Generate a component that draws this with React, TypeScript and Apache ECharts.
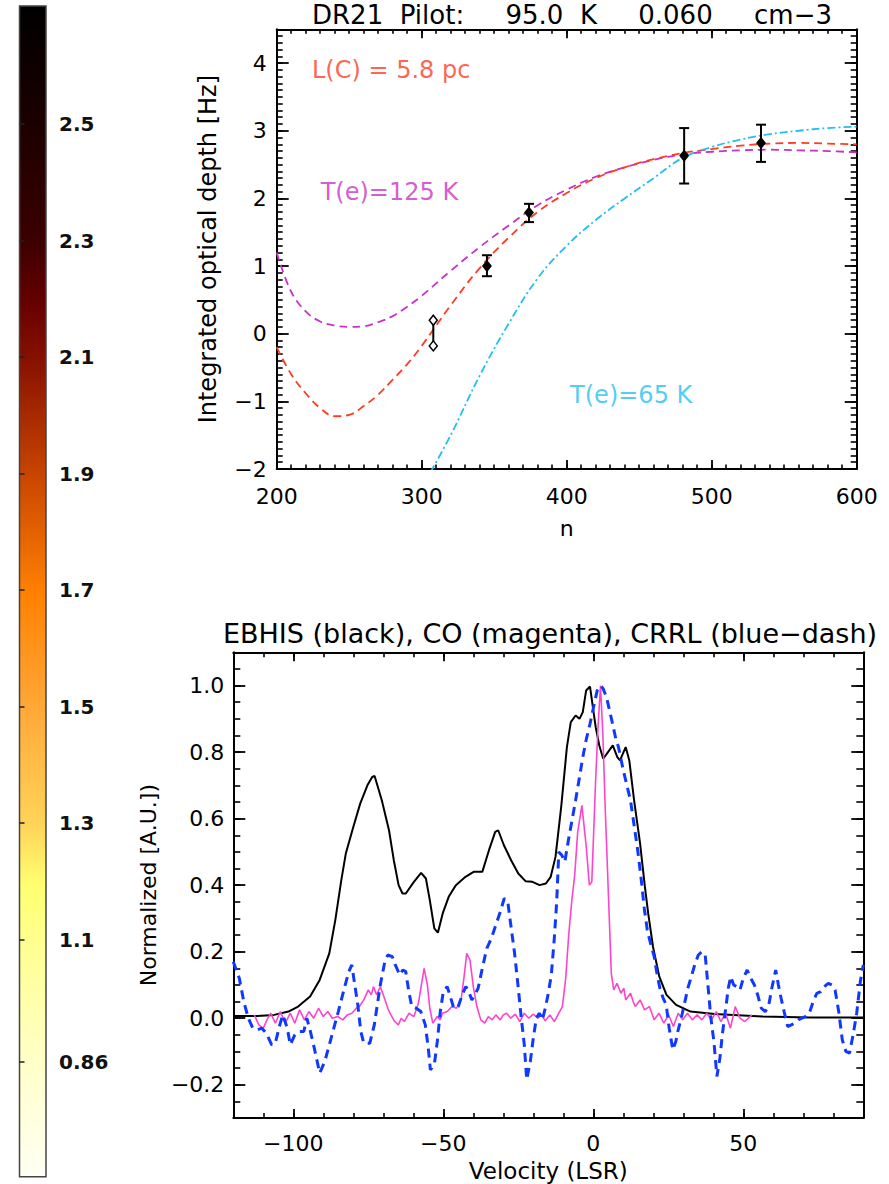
import React, { useEffect, useRef } from "react";
import * as echarts from "echarts";

const FONT = "DejaVu Sans";

// ---------- colour bar ----------
const cbMin = 0.693;
const cbMax = 2.703;
const cbTickValues = [2.5, 2.3, 2.1, 1.9, 1.7, 1.5, 1.3, 1.1, 0.89];
const cbTickLabels = ["2.5", "2.3", "2.1", "1.9", "1.7", "1.5", "1.3", "1.1", "0.86"];
const cbStopOffsets = [0, 0.1, 0.2, 0.25, 0.3, 0.4, 0.5, 0.6, 0.7, 0.75, 0.8, 0.9, 1];
const cbStopColors = [
  "#000000", "#1c0000", "#3c0000", "#640000", "#861000", "#c84400", "#ff8000",
  "#ffa838", "#ffd458", "#ffff70", "#ffff90", "#ffffc8", "#fffff4",
];

// ---------- upper panel: integrated optical depth vs. n ----------
const modelN = [200, 210, 220, 230, 240, 250, 260, 270, 280, 290, 300, 320, 340, 360, 380, 400, 420, 440, 460, 480, 500, 520, 540, 560, 580, 600];
const tauLC = [-0.2, -0.6, -0.88, -1.1, -1.22, -1.2, -1.07, -0.9, -0.68, -0.45, -0.18, 0.42, 0.97, 1.42, 1.8, 2.08, 2.3, 2.46, 2.58, 2.67, 2.73, 2.78, 2.81, 2.82, 2.81, 2.8];
const tauTe125 = [1.2, 0.62, 0.33, 0.18, 0.12, 0.1, 0.11, 0.17, 0.26, 0.4, 0.56, 0.93, 1.28, 1.6, 1.9, 2.13, 2.32, 2.46, 2.57, 2.65, 2.69, 2.71, 2.72, 2.71, 2.7, 2.68];
const te65N = [306, 320, 340, 360, 380, 400, 420, 440, 460, 480, 500, 520, 540, 560, 580, 600];
const tauTe65 = [-2.05, -1.5, -0.62, 0.15, 0.82, 1.3, 1.68, 2.0, 2.3, 2.6, 2.76, 2.87, 2.95, 3.0, 3.04, 3.06];

const obsN = [308, 345, 374, 481, 534];
const obsTau: (number | null)[] = [null, 1.0, 1.79, 2.63, 2.82];
const obsLow = [-0.18, 0.85, 1.65, 2.22, 2.54];
const obsHigh = [0.2, 1.16, 1.92, 3.04, 3.09];

const noteText = ["L(C) = 5.8 pc", "T(e)=125 K", "T(e)=65 K"];
const noteN = [224, 230, 402];
const noteTau = [3.9, 2.1, -0.9];
const noteColor = ["#ff3b22", "#c832c8", "#22bff0"];

// ---------- lower panel: normalised spectra ----------
const ebhisVel = [-120, -112, -106.4, -101.6, -98.4, -94.4, -91.2, -88, -86, -84, -82.5, -80, -77.7, -75.3, -73.7, -72.9, -70.5, -68.1, -66.5, -64.9, -63.6, -62.5, -59.8, -57.4, -55.8, -54.5, -53, -51.8, -50.2, -48.2, -45.8, -42.6, -39.9, -37, -34.6, -32.7, -31.7, -29.8, -27.4, -25, -22.6, -20.3, -17.9, -15.8, -14.2, -12.6, -10.7, -8.8, -7.5, -5.9, -4.6, -3.5, -2.4, -1.1, 0.8, 2, 3.3, 4.9, 6.5, 8, 8.9, 10.8, 12, 13.6, 15.6, 17.2, 18.3, 19.9, 22, 24.4, 27.6, 32.4, 40.4, 56.3, 72.2, 90];
const ebhisNorm = [0.007, 0.007, 0.01, 0.02, 0.035, 0.065, 0.115, 0.195, 0.295, 0.415, 0.495, 0.575, 0.645, 0.7, 0.725, 0.728, 0.655, 0.565, 0.475, 0.4, 0.375, 0.375, 0.41, 0.437, 0.42, 0.355, 0.27, 0.257, 0.315, 0.365, 0.4, 0.425, 0.44, 0.44, 0.51, 0.56, 0.565, 0.52, 0.475, 0.435, 0.412, 0.41, 0.4, 0.405, 0.425, 0.485, 0.635, 0.815, 0.89, 0.91, 0.9, 0.92, 0.985, 0.997, 0.875, 0.82, 0.78, 0.8, 0.82, 0.785, 0.775, 0.815, 0.775, 0.655, 0.525, 0.395, 0.315, 0.215, 0.125, 0.07, 0.04, 0.02, 0.013, 0.005, 0.002, 0.002];

const coVel = [-113, -111.5, -110, -108.5, -107.5, -106, -104.3, -102.7, -101, -99.5, -97.9, -96.3, -94.8, -93.2, -91.6, -90, -88.5, -87, -85.2, -83.5, -82, -80.5, -79, -78, -76.5, -75, -74, -73.3, -72.2, -71, -69.4, -68.5, -67.8, -66.2, -65, -64, -63, -61.4, -59.8, -58.3, -57.3, -56.4, -55.3, -54.5, -53.5, -52, -51, -50.3, -48.7, -47.1, -45.6, -44, -43, -42.2, -41.1, -40, -38.8, -37.5, -36.2, -35, -33.7, -32.5, -31, -30, -28.9, -27.5, -26, -24.5, -23, -21.5, -20, -18.5, -17.3, -16, -14.5, -13, -11.5, -10.3, -9.2, -8.2, -7.2, -6.2, -5.2, -3.8, -2.4, -1.3, -0.5, 0.8, 1.6, 2.4, 3.2, 3.9, 4.9, 6.0, 6.8, 7.9, 9.2, 10.2, 10.8, 12.4, 13.3, 14, 15.6, 17.1, 18.7, 20.3, 21.9, 23.5, 25.1, 26.7, 28.3, 29.8, 31.4, 33, 34.6, 36.2, 37.8, 39.4, 41, 42.5, 44.1, 45.7, 47.3, 48.9, 50.5, 52.9];
const coNorm = [0.01, -0.02, -0.03, 0.0, 0.015, -0.015, 0.02, -0.015, 0.015, -0.015, 0.025, -0.005, 0.02, 0.0, 0.03, 0.005, 0.02, 0.0, 0.005, -0.005, 0.01, 0.015, 0.03, 0.035, 0.055, 0.085, 0.07, 0.095, 0.07, 0.095, 0.055, 0.03, 0.015, -0.01, -0.02, 0.0, -0.01, 0.015, 0.005, 0.045, 0.1, 0.15, 0.1, 0.03, -0.015, 0.005, -0.005, 0.015, 0.02, 0.035, 0.03, 0.06, 0.13, 0.195, 0.175, 0.095, 0.035, -0.005, -0.015, 0.005, -0.005, 0.01, -0.005, 0.01, 0.015, 0.0, 0.012, -0.01, 0.015, 0.0, 0.012, 0.0, 0.01, -0.008, 0.01, -0.01, 0.015, 0.035, 0.12, 0.25, 0.35, 0.43, 0.56, 0.64, 0.52, 0.4, 0.41, 0.72, 0.88, 1.0, 0.85, 0.65, 0.405, 0.135, 0.085, 0.105, 0.075, 0.09, 0.055, 0.075, 0.05, 0.035, 0.055, 0.025, 0.035, -0.005, 0.015, -0.015, 0.01, -0.025, 0.015, -0.005, 0.015, -0.005, 0.01, -0.005, 0.015, -0.005, 0.02, -0.01, 0.015, -0.03, 0.035, 0.0, -0.01, 0.01];

const crrlVel = [-120, -118, -116.5, -115, -113.5, -112, -110.5, -109, -107.2, -106, -104.5, -103.5, -102, -101, -99.5, -98, -96.5, -95.5, -94.3, -93, -91.2, -89.5, -88, -86.5, -85, -83, -81.5, -80.5, -79.5, -78.5, -77.5, -76.5, -74.5, -73, -72, -71, -69.5, -68.5, -67, -66, -64.5, -63.5, -62.5, -61.5, -60.5, -59, -57.5, -56, -55, -54.3, -53, -52, -51, -50, -48.7, -47.5, -46.5, -45, -43.7, -42.5, -41.5, -40.5, -39.5, -38.4, -37, -35.5, -34, -32.5, -31, -29.7, -28.5, -27.5, -26.3, -25, -24, -23, -22.2, -21, -20, -19, -18, -17, -16, -15, -14, -13, -12.2, -11.5, -10.5, -9.5, -8.3, -7, -5.9, -4.5, -3.5, -2.3, -1.1, 0.2, 1.3, 2.5, 3.3, 4.4, 5.3, 6.3, 7.5, 8.4, 10, 11.2, 12.4, 13.6, 14.8, 16, 17, 18, 19.2, 20.3, 21.3, 22.2, 23.3, 24.3, 25.3, 26.5, 27.5, 28.3, 29.3, 30.3, 31.5, 32.5, 33.8, 35, 36.2, 37.3, 38.3, 39.2, 40.2, 41.2, 42.2, 43, 44, 45, 45.8, 46.8, 47.8, 48.9, 50, 51.3, 52.5, 53.7, 54.8, 56, 57.3, 58.4, 59.5, 60.8, 61.7, 62.6, 63.6, 64.8, 66, 67.1, 68.3, 69.5, 70.7, 72, 73.3, 74.5, 75.8, 77, 78.3, 79.5, 80.6, 81.8, 83, 84.2, 85.4, 86.6, 87.8, 89, 90];
const crrlNorm = [0.17, 0.12, 0.05, 0.0, -0.03, -0.035, -0.03, -0.045, -0.08, -0.075, -0.02, 0.01, -0.03, -0.08, -0.05, -0.04, -0.04, 0.0, -0.04, -0.09, -0.165, -0.13, -0.08, -0.03, 0.02, 0.09, 0.14, 0.16, 0.1, 0.04, -0.04, -0.075, -0.075, -0.02, 0.04, 0.1, 0.17, 0.19, 0.185, 0.16, 0.13, 0.145, 0.14, 0.08, 0.035, 0.03, 0.02, -0.02, -0.09, -0.155, -0.14, -0.07, 0.02, 0.08, 0.095, 0.06, 0.03, 0.035, 0.07, 0.095, 0.08, 0.055, 0.07, 0.09, 0.15, 0.21, 0.24, 0.28, 0.32, 0.36, 0.35, 0.28, 0.2, 0.09, 0.0, -0.08, -0.185, -0.13, -0.06, 0.0, 0.015, -0.005, 0.03, 0.075, 0.13, 0.24, 0.35, 0.5, 0.49, 0.47, 0.535, 0.6, 0.655, 0.73, 0.785, 0.84, 0.885, 0.94, 0.985, 1.0, 0.99, 0.965, 0.93, 0.89, 0.84, 0.815, 0.745, 0.7, 0.655, 0.58, 0.505, 0.415, 0.33, 0.265, 0.22, 0.185, 0.13, 0.09, 0.06, 0.04, -0.03, -0.095, -0.07, -0.035, 0.0, 0.04, 0.09, 0.12, 0.16, 0.19, 0.2, 0.19, 0.09, 0.0, -0.07, -0.175, -0.12, -0.05, 0.02, 0.09, 0.125, 0.1, 0.095, 0.085, 0.12, 0.145, 0.12, 0.1, 0.07, 0.03, 0.02, 0.035, 0.09, 0.145, 0.1, 0.06, 0.02, -0.025, -0.02, -0.015, -0.005, 0.0, 0.005, 0.015, 0.05, 0.075, 0.08, 0.095, 0.105, 0.1, 0.085, 0.02, -0.065, -0.1, -0.105, -0.05, 0.015, 0.11, 0.16];

const zip = (xs: number[], ys: number[]) => xs.map((x, i) => [x, ys[i]]);

const withMinus = (digits: number) => (v: number) => {
  const s = Math.abs(v).toFixed(digits);
  return v < -1e-9 ? "\u2212" + s : s;
};

type SideSpec = {
  min: number;
  max: number;
  majorInterval?: number;
  majorValues?: number[];
  minorInterval: number;
  majorLen: number;
  minorLen: number;
  digits: number;
  labelMargin: number;
  hideMaxLabel?: boolean;
  name: string;
  nameGap: number;
  nameSize: number;
};

// Four axes per direction: labelled major + minor on the near side, mirrored on the far side.
function frameAxes(dim: "x" | "y", gridIndex: number, s: SideSpec) {
  const [near, far] = dim === "x" ? ["bottom", "top"] : ["left", "right"];
  const base = {
    type: "value",
    gridIndex,
    min: s.min,
    max: s.max,
    splitLine: { show: false },
  };
  const major = (pos: string, labelled: boolean) => ({
    ...base,
    position: pos,
    interval: s.majorInterval,
    axisLine: { show: true, onZero: false, lineStyle: { color: "#000", width: 2 } },
    axisTick: {
      show: true,
      inside: true,
      length: s.majorLen,
      customValues: s.majorValues,
      lineStyle: { color: "#000", width: 1.8 },
    },
    axisLabel: {
      show: labelled,
      customValues: s.majorValues,
      margin: s.labelMargin,
      formatter: withMinus(s.digits),
      fontFamily: FONT,
      fontSize: 22,
      color: "#000",
      showMaxLabel: s.hideMaxLabel ? false : undefined,
    },
    name: labelled ? s.name : "",
    nameLocation: "middle",
    nameGap: s.nameGap,
    nameTextStyle: { fontFamily: FONT, fontSize: s.nameSize, color: "#000" },
  });
  const minor = (pos: string) => ({
    ...base,
    position: pos,
    interval: s.minorInterval,
    axisLine: { show: false, onZero: false },
    axisTick: { show: true, inside: true, length: s.minorLen, lineStyle: { color: "#000", width: 1.6 } },
    axisLabel: { show: false },
  });
  return [major(near, true), minor(near), major(far, false), minor(far)];
}

export default function App() {
  const ref = useRef<HTMLDivElement>(null);

  useEffect(() => {
    document.body.style.margin = "0";
    const chart = echarts.init(ref.current!, undefined, { renderer: "svg" });

    const cbGradient = new echarts.graphic.LinearGradient(
      0, 0, 0, 1,
      cbStopOffsets.map((o, i) => ({ offset: o, color: cbStopColors[i] }))
    );

    const xAxes = [
      ...frameAxes("x", 0, {
        min: 200, max: 600, majorInterval: 100, minorInterval: 10,
        majorLen: 9, minorLen: 4.5, digits: 0, labelMargin: 16,
        name: "n", nameGap: 48, nameSize: 22,
      }),
      ...frameAxes("x", 1, {
        min: -120, max: 90, majorValues: [-100, -50, 0, 50], minorInterval: 10,
        majorLen: 9, minorLen: 5, digits: 0, labelMargin: 14,
        name: "Velocity (LSR)", nameGap: 41, nameSize: 23,
      }),
      { type: "value", gridIndex: 2, min: 0, max: 1, show: false },
    ];

    const yAxes = [
      ...frameAxes("y", 0, {
        min: -2, max: 4.5, majorInterval: 1, minorInterval: 0.1,
        majorLen: 12, minorLen: 6, digits: 0, labelMargin: 10, hideMaxLabel: true,
        name: "Integrated optical depth [Hz]", nameGap: 57, nameSize: 24,
      }),
      ...frameAxes("y", 1, {
        min: -0.3, max: 1.1, majorValues: [-0.2, 0, 0.2, 0.4, 0.6, 0.8, 1.0], minorInterval: 0.05,
        majorLen: 12, minorLen: 7, digits: 1, labelMargin: 9,
        name: "Normalized [A.U.])", nameGap: 74, nameSize: 22,
      }),
      {
        type: "value",
        gridIndex: 2,
        position: "right",
        min: cbMin,
        max: cbMax,
        splitLine: { show: false },
        axisLine: { show: false },
        axisTick: {
          show: true,
          inside: false,
          length: 5,
          customValues: cbTickValues,
          lineStyle: { color: "#222", width: 1.5 },
        },
        axisLabel: {
          customValues: cbTickValues,
          margin: 13,
          fontFamily: FONT,
          fontWeight: "bold",
          fontSize: 20,
          color: "#111",
          formatter: (v: number) => {
            const i = cbTickValues.findIndex((t) => Math.abs(t - v) < 1e-6);
            return i >= 0 ? cbTickLabels[i] : "";
          },
        },
      },
    ];

    const option: any = {
      animation: false,
      backgroundColor: "#ffffff",
      textStyle: { fontFamily: FONT },
      title: [
        {
          text: "DR21  Pilot:     95.0  K     0.060     cm\u22123",
          left: 567,
          top: -3,
          textAlign: "center",
          textStyle: { fontFamily: FONT, fontSize: 26, fontWeight: "normal", color: "#000" },
        },
        {
          text: "EBHIS (black), CO (magenta), CRRL (blue\u2212dash)",
          left: 545,
          top: 615,
          textAlign: "center",
          textStyle: { fontFamily: FONT, fontSize: 27, fontWeight: "normal", color: "#000" },
        },
      ],
      grid: [
        { left: 276.7, top: 29.3, width: 580, height: 439.7 },
        { left: 233.3, top: 652.3, width: 630, height: 465.7 },
        {
          left: 19.5, top: 6, width: 26.5, height: 1170.7,
          show: true, backgroundColor: cbGradient, borderColor: "#444", borderWidth: 1.5,
        },
      ],
      xAxis: xAxes,
      yAxis: yAxes,
      series: [
        {
          type: "line", xAxisIndex: 0, yAxisIndex: 0, smooth: 0.4, symbol: "none",
          data: zip(modelN, tauTe125),
          lineStyle: { color: "#c832c8", width: 1.8, type: [8, 5] },
        },
        {
          type: "line", xAxisIndex: 0, yAxisIndex: 0, smooth: 0.4, symbol: "none",
          data: zip(modelN, tauLC),
          lineStyle: { color: "#ff3b22", width: 1.8, type: [8, 5] },
        },
        {
          type: "line", xAxisIndex: 0, yAxisIndex: 0, smooth: 0.4, symbol: "none",
          data: zip(te65N, tauTe65),
          lineStyle: { color: "#22bff0", width: 1.8, type: [8, 3, 2, 3] },
        },
        {
          type: "custom",
          xAxisIndex: 0,
          yAxisIndex: 0,
          data: obsN.map((n, i) => [n, obsLow[i], obsHigh[i]]),
          renderItem: (params: any, api: any) => {
            const i = params.dataIndex;
            const n = api.value(0);
            const lo = api.coord([n, api.value(1)]);
            const hi = api.coord([n, api.value(2)]);
            const stroke = { stroke: "#000", lineWidth: 2 };
            const diamond = (p: number[], filled: boolean) => ({
              type: "polygon",
              shape: { points: [[p[0], p[1] - 5], [p[0] + 4, p[1]], [p[0], p[1] + 5], [p[0] - 4, p[1]]] },
              style: { fill: filled ? "#000" : "#fff", stroke: "#000", lineWidth: 1.5 },
            });
            const children: any[] = [
              { type: "line", shape: { x1: lo[0], y1: lo[1], x2: hi[0], y2: hi[1] }, style: stroke },
            ];
            const tau = obsTau[i];
            if (tau === null) {
              children.push(diamond(lo, false), diamond(hi, false));
            } else {
              const c = api.coord([n, tau]);
              children.push(
                { type: "line", shape: { x1: lo[0] - 5, y1: lo[1], x2: lo[0] + 5, y2: lo[1] }, style: stroke },
                { type: "line", shape: { x1: hi[0] - 5, y1: hi[1], x2: hi[0] + 5, y2: hi[1] }, style: stroke },
                diamond(c, true)
              );
            }
            return { type: "group", children };
          },
          z: 5,
        },
        {
          type: "scatter",
          xAxisIndex: 0,
          yAxisIndex: 0,
          symbolSize: 1,
          itemStyle: { color: "rgba(0,0,0,0)" },
          data: noteText.map((t, i) => ({
            value: [noteN[i], noteTau[i]],
            label: {
              show: true,
              position: "right",
              distance: 0,
              formatter: t,
              color: noteColor[i],
              fontFamily: FONT,
              fontSize: 24,
            },
          })),
        },
        {
          type: "line", xAxisIndex: 4, yAxisIndex: 4, symbol: "none",
          data: zip(ebhisVel, ebhisNorm),
          lineStyle: { color: "#000", width: 2 },
        },
        {
          type: "line", xAxisIndex: 4, yAxisIndex: 4, symbol: "none",
          data: zip(coVel, coNorm),
          lineStyle: { color: "#ff44cc", width: 1.6 },
        },
        {
          type: "line", xAxisIndex: 4, yAxisIndex: 4, symbol: "none",
          data: zip(crrlVel, crrlNorm),
          lineStyle: { color: "#1038ff", width: 3, type: [9, 6] },
        },
      ],
    };

    chart.setOption(option);
    return () => chart.dispose();
  }, []);

  return <div ref={ref} style={{ width: 889, height: 1184 }} />;
}
